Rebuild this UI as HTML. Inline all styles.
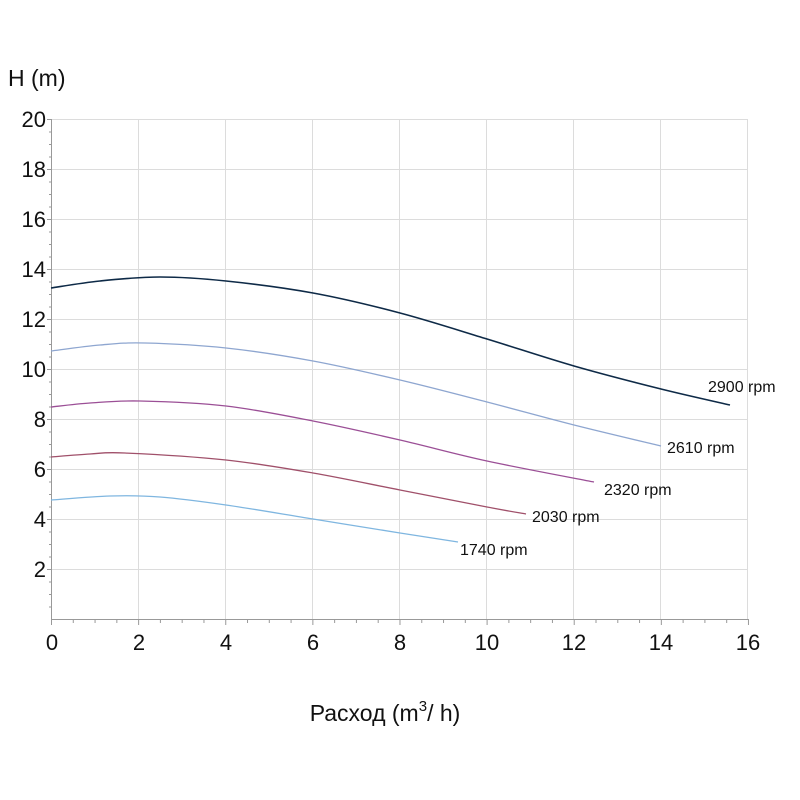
<!DOCTYPE html><html><head><style>body{margin:0;background:#fff}svg{display:block}text{font-family:"Liberation Sans",sans-serif}</style></head><body>
<svg width="800" height="800" viewBox="0 0 800 800">
<g stroke="#dcdcdc" stroke-width="1">
<line x1="138.5" y1="119" x2="138.5" y2="619"/><line x1="225.5" y1="119" x2="225.5" y2="619"/><line x1="312.5" y1="119" x2="312.5" y2="619"/><line x1="399.5" y1="119" x2="399.5" y2="619"/><line x1="486.5" y1="119" x2="486.5" y2="619"/><line x1="573.5" y1="119" x2="573.5" y2="619"/><line x1="660.5" y1="119" x2="660.5" y2="619"/><line x1="747.5" y1="119" x2="747.5" y2="619"/>
<line x1="51" y1="569.5" x2="748" y2="569.5"/><line x1="51" y1="519.5" x2="748" y2="519.5"/><line x1="51" y1="469.5" x2="748" y2="469.5"/><line x1="51" y1="419.5" x2="748" y2="419.5"/><line x1="51" y1="369.5" x2="748" y2="369.5"/><line x1="51" y1="319.5" x2="748" y2="319.5"/><line x1="51" y1="269.5" x2="748" y2="269.5"/><line x1="51" y1="219.5" x2="748" y2="219.5"/><line x1="51" y1="169.5" x2="748" y2="169.5"/><line x1="51" y1="119.5" x2="748" y2="119.5"/>
</g>
<g stroke="#999" stroke-width="1">
<line x1="51.5" y1="119" x2="51.5" y2="619"/><line x1="51" y1="619.5" x2="748" y2="619.5"/>
</g>
<g id="tk" stroke="#999"></g>
<g fill="none" stroke-width="1.3" id="cv">
<path stroke="#0e2a47" stroke-width="1.6" data-p="51,288 100,281 160,277 226,281 313,293 400,313 487,339 574,366 661,389 730,405"/>
<path stroke="#8ea6d0" data-p="51,351 100,345 145,343 226,348 313,361 400,380 487,402 574,425 661,446"/>
<path stroke="#9b4f96" data-p="51,407 90,403 140,401 226,406 313,421 400,440 487,461 594,482"/>
<path stroke="#a0506a" data-p="51,457 90,454 125,453 226,460 313,473 400,490 487,507 526,514"/>
<path stroke="#7fb6e0" data-p="51,500 110,496 160,497 226,505 313,519 400,533 458,542"/>
</g>
<g font-size="16" fill="#111">
<text x="708" y="392">2900 rpm</text><text x="667" y="453">2610 rpm</text><text x="604" y="495">2320 rpm</text><text x="532" y="522">2030 rpm</text><text x="460" y="555">1740 rpm</text>
</g>
<g font-size="22" fill="#111" text-anchor="end">
<text x="46" y="577">2</text><text x="46" y="527">4</text><text x="46" y="477">6</text><text x="46" y="427">8</text><text x="46" y="377">10</text><text x="46" y="327">12</text><text x="46" y="277">14</text><text x="46" y="227">16</text><text x="46" y="177">18</text><text x="46" y="127">20</text>
</g>
<g font-size="22" fill="#111" text-anchor="middle">
<text x="52" y="650">0</text><text x="139" y="650">2</text><text x="226" y="650">4</text><text x="313" y="650">6</text><text x="400" y="650">8</text><text x="487" y="650">10</text><text x="574" y="650">12</text><text x="661" y="650">14</text><text x="748" y="650">16</text>
</g>
<text x="8" y="86" font-size="23" fill="#111">H (m)</text>
<text x="385" y="721" font-size="23" fill="#111" text-anchor="middle">Расход (m<tspan dy="-10" font-size="15">3</tspan><tspan dy="10">/ h)</tspan></text>
</svg>
<script>
var g=document.getElementById('tk'),s='';
for(var i=0;i<=32;i++){var x=51.5+i*21.78;s+='<line x1="'+x+'" y1="619" x2="'+x+'" y2="'+(i%4?623:625)+'"/>';}
for(var j=1;j<=40;j++){var y=619.5-j*12.5;s+='<line x1="'+(j%4?49:47)+'" y1="'+y+'" x2="51" y2="'+y+'"/>';}
g.innerHTML=s;
document.querySelectorAll('#cv path').forEach(function(p){
var pts=p.getAttribute('data-p').split(' ').map(function(a){return a.split(',').map(Number)});
var d='M'+pts[0].join(',');
for(var k=0;k<pts.length-1;k++){var p0=pts[k-1]||pts[k],p1=pts[k],p2=pts[k+1],p3=pts[k+2]||p2;
d+=' C'+(p1[0]+(p2[0]-p0[0])/6)+','+(p1[1]+(p2[1]-p0[1])/6)+' '+(p2[0]-(p3[0]-p1[0])/6)+','+(p2[1]-(p3[1]-p1[1])/6)+' '+p2[0]+','+p2[1];}
p.setAttribute('d',d);p.removeAttribute('data-p');});
</script>
</body></html>
